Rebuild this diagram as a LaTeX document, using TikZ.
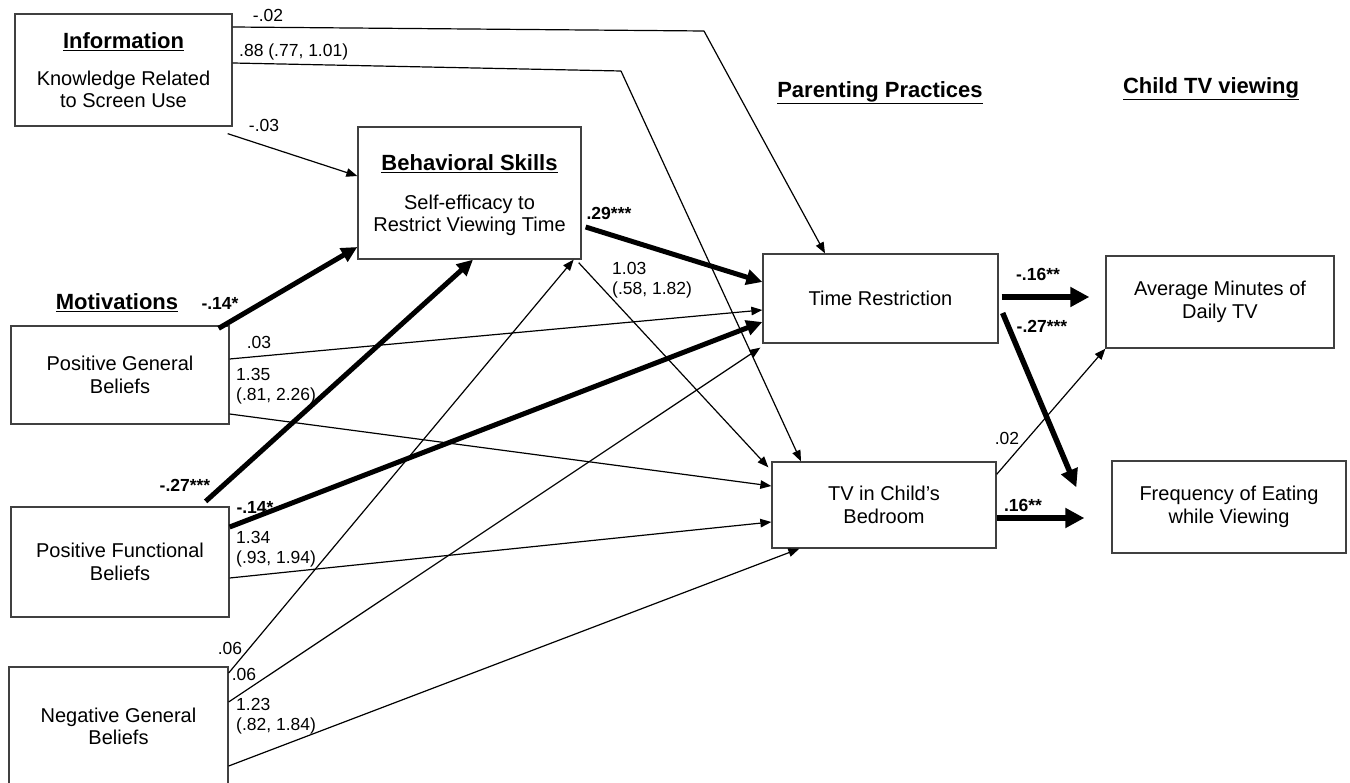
\documentclass[tikz,border=0pt]{standalone}
\usepackage{fontspec}
\setmainfont{Liberation Sans}
\usetikzlibrary{arrows.meta}
\begin{document}
\begin{tikzpicture}[x=1pt,y=-1pt,
  box/.style={draw=black!75,line width=1.3pt,rectangle,inner sep=0pt,align=center,
    font=\fontsize{20}{22.5}\selectfont},
  title/.style={font=\fontsize{22}{24}\selectfont\bfseries,inner sep=0pt},
  lab/.style={font=\fontsize{17.5}{20.5}\selectfont,inner sep=0pt},
  blab/.style={font=\fontsize{17.5}{20.5}\selectfont\bfseries,inner sep=0pt},
  thin/.style={draw=black,line width=1.2pt,-{Triangle[length=11pt,width=8.5pt]}},
  thinline/.style={draw=black,line width=1.2pt},
  thick/.style={draw=black,line width=5pt,-{Triangle[length=16pt,width=15pt]}},
  thickR/.style={draw=black,line width=6pt,-{Triangle[length=19pt,width=19pt]}},
]
\clip (0,0) rectangle (1350,783);
\fill[white] (0,0) rectangle (1350,783);

% boxes
\node[box,minimum width=217pt,minimum height=112pt] (info) at (123.5,70) {};
\node[title] (infot) at (123.5,42) {\underline{Information}};
\node[box,draw=none,font=\fontsize{20}{22}\selectfont] (infotx) at (123.5,89) {Knowledge Related\\to Screen Use};

\node[box,minimum width=223pt,minimum height=132pt] (beh) at (469.5,193) {};
\node[title] (beht) at (469.5,164) {\underline{Behavioral Skills}};
\node[box,draw=none,font=\fontsize{20}{22}\selectfont] (behtx) at (469.5,215) {Self-efficacy to\\Restrict Viewing Time};

\node[title] (mot) at (117,303) {\underline{Motivations}};
\node[box,minimum width=218pt,minimum height=98pt] (pgb) at (120,375) {Positive General\\Beliefs};
\node[box,minimum width=218pt,minimum height=110pt] (pfb) at (120,562) {Positive Functional\\Beliefs};
\node[box,minimum width=219pt,minimum height=119pt] (ngb) at (118.5,726.5) {Negative General\\Beliefs};

\node[title] (pp) at (880,93) {\underline{Parenting Practices}};
\node[title] (ctv) at (1211,89) {\underline{Child TV viewing}};

\node[box,minimum width=235pt,minimum height=89pt] (tr) at (880.5,298.5) {Time Restriction};
\node[box,minimum width=224pt,minimum height=86pt] (tvb) at (884,505) {TV in Child's\\Bedroom};
\node[box,minimum width=228pt,minimum height=92pt] (avg) at (1220,302) {Average Minutes of\\Daily TV};
\node[box,minimum width=234pt,minimum height=92pt] (freq) at (1229,507) {Frequency of Eating\\while Viewing};

% corner coordinates
\coordinate (c1) at (704,31);
\coordinate (c2) at (621,71);

% information paths
\draw[thinline] ([yshift=43pt]info.east) -- (c1);
\draw[thin] (c1) -- ([xshift=-55.5pt]tr.north);
\draw[thinline] ([yshift=7pt]info.east) -- (c2);
\draw[thin] (c2) -- ([xshift=-83pt]tvb.north);
\draw[thin] ([shift={(-5pt,-7pt)}]info.south east) -- ([yshift=17pt]beh.west);

% behavioral skills
\draw[thick] ([shift={(4pt,-34pt)}]beh.east) -- ([yshift=16.5pt]tr.west);
\draw[thin] ([shift={(-3pt,-3pt)}]beh.south east) -- ([shift={(-3pt,-6pt)}]tvb.north west);

% positive general beliefs
\draw[thick] ([shift={(-11pt,-3pt)}]pgb.north east) -- ([yshift=-54pt]beh.west);
\draw[thin] ([yshift=16pt]pgb.east) -- ([yshift=-11.5pt]tr.west);
\draw[thin] ([yshift=-39pt]pgb.east) -- ([yshift=19pt]tvb.west);

% positive functional beliefs
\draw[thick] ([shift={(-24pt,5pt)}]pfb.north east) -- ([xshift=3.5pt]beh.south);
\draw[thick] ([yshift=35pt]pfb.east) -- ([yshift=-23.5pt]tr.west);
\draw[thin] ([yshift=-16pt]pfb.east) -- ([yshift=-17pt]tvb.west);

% negative general beliefs
\draw[thin] ([yshift=53.5pt]ngb.east) -- ([xshift=-8pt]beh.south east);
\draw[thin] ([yshift=24.5pt]ngb.east) -- ([shift={(-2pt,-4pt)}]tr.south west);
\draw[thin] ([yshift=-39.5pt]ngb.east) -- ([xshift=28pt]tvb.south west);

% parenting to child
\draw[thickR] ([xshift=3pt,yshift=1.5pt]tr.east) -- ([shift={(-16pt,5pt)}]avg.west);
\draw[thick,line width=5.5pt,-{Triangle[length=18pt,width=17pt]}] ([shift={(4pt,-14.5pt)}]tr.east) -- ([shift={(-35pt,-27pt)}]freq.north west);
\draw[thin] ([yshift=-13pt]tvb.north east) -- (avg.south west);
\draw[thickR] ([yshift=-13pt]tvb.east) -- ([shift={(-27pt,-11pt)}]freq.west);

% labels
\node[lab] (l1) at (268,15) {-.02};
\node[lab,anchor=west] (l2) at (239,52) {.88 (.77, 1.01)};
\node[lab] (l3) at (264,125) {-.03};
\node[blab] (l4) at (609,213) {.29***};
\node[lab,anchor=west,align=left] (l5) at (612,280) {1.03\\(.58, 1.82)};
\node[blab] (l6) at (220,303) {-.14*};
\node[lab] (l7) at (259,342) {.03};
\node[lab,anchor=west,align=left] (l8) at (236,386) {1.35\\(.81, 2.26)};
\node[blab] (l9) at (185,485) {-.27***};
\node[blab] (l10) at (255,507) {-.14*};
\node[lab,anchor=west,align=left] (l11) at (236,549) {1.34\\(.93, 1.94)};
\node[lab] (l12) at (230,648) {.06};
\node[lab] (l13) at (244,674) {.06};
\node[lab,anchor=west,align=left] (l14) at (236,716) {1.23\\(.82, 1.84)};
\node[blab] (l15) at (1038,274) {-.16**};
\node[blab] (l16) at (1042,326) {-.27***};
\node[lab] (l17) at (1007,438) {.02};
\node[blab] (l18) at (1023,505) {.16**};
\end{tikzpicture}
\end{document}
